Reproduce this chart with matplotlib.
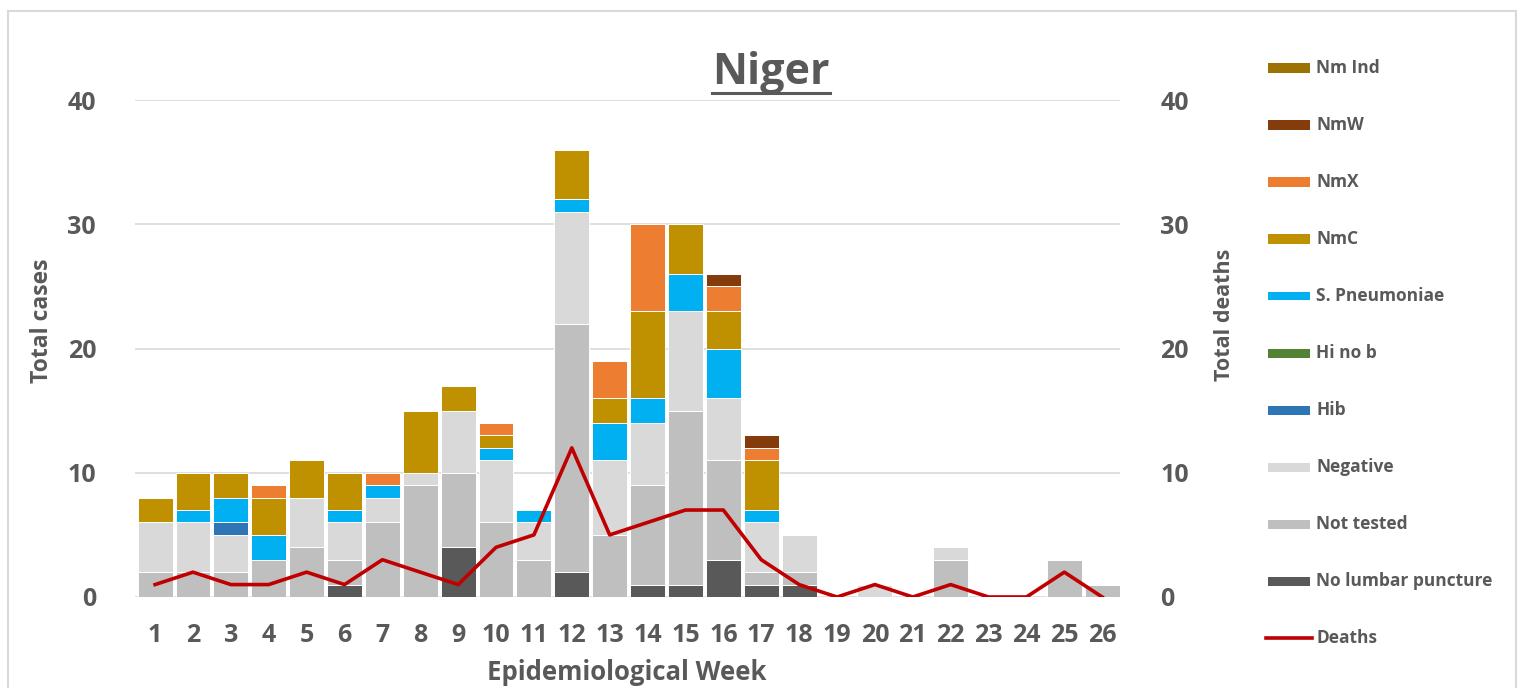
import matplotlib
matplotlib.use("Agg")
import matplotlib.pyplot as plt
from matplotlib.patches import Rectangle
from matplotlib.lines import Line2D
import numpy as np

plt.rcParams['font.family'] = ['Open Sans', 'DejaVu Sans']

weeks = list(range(1, 27))
no_lumbar = [0,0,0,0,0,1,0,0,4,0,0,2,0,1,1,3,1,1,0,0,0,0,0,0,0,0]
not_tested = [2,2,2,3,4,2,6,9,6,6,3,20,5,8,14,8,1,1,0,0,0,3,0,0,3,1]
negative = [4,4,3,0,4,3,2,1,5,5,3,9,6,5,8,5,4,3,0,1,0,1,0,0,0,0]
hib = [0,0,1,0,0,0,0,0,0,0,0,0,0,0,0,0,0,0,0,0,0,0,0,0,0,0]
hi_no_b = [0]*26
s_pneumo = [0,1,2,2,0,1,1,0,0,1,1,1,3,2,3,4,1,0,0,0,0,0,0,0,0,0]
nmc = [2,3,2,3,3,3,0,5,2,1,0,4,2,7,4,3,4,0,0,0,0,0,0,0,0,0]
nmx = [0,0,0,1,0,0,1,0,0,1,0,0,3,7,0,2,1,0,0,0,0,0,0,0,0,0]
nmw = [0,0,0,0,0,0,0,0,0,0,0,0,0,0,0,1,1,0,0,0,0,0,0,0,0,0]
nm_ind = [0]*26
deaths = [1,2,1,1,2,1,3,2,1,4,5,12,5,6,7,7,3,1,0,1,0,1,0,0,2,0]

series = [
    ("No lumbar puncture", no_lumbar, "#595959"),
    ("Not tested", not_tested, "#BFBFBF"),
    ("Negative", negative, "#D9D9D9"),
    ("Hib", hib, "#2E75B6"),
    ("Hi no b", hi_no_b, "#548235"),
    ("S. Pneumoniae", s_pneumo, "#00B0F0"),
    ("NmC", nmc, "#BF9000"),
    ("NmX", nmx, "#ED7D31"),
    ("NmW", nmw, "#843C0C"),
    ("Nm Ind", nm_ind, "#9C7300"),
]

TXT = "#595959"
W, H = 1520, 688
fig = plt.figure(figsize=(W/100, H/100), dpi=100)

def fx(px):
    return px / W

def fy(py):
    return 1 - py / H

ax = fig.add_axes([fx(135), fy(597), fx(1120) - fx(135), fy(100) - fy(597)])
ax2 = ax.twinx()

bottom = np.zeros(len(weeks))
for name, vals, col in series:
    v = np.array(vals, dtype=float)
    ax.bar(weeks, v, bottom=bottom, width=0.92, color=col, edgecolor="white",
           linewidth=0.7, zorder=3)
    bottom += v

ax2.plot(weeks, deaths, color="#C00000", linewidth=2.6, zorder=5)

for a in (ax, ax2):
    a.set_ylim(0, 40)
    a.set_xlim(0.47, 26.47)
    a.set_yticks([0, 10, 20, 30, 40])
    for s in a.spines.values():
        s.set_visible(False)
    a.tick_params(length=0, labelsize=18, labelcolor=TXT)
    for lab in a.get_yticklabels():
        lab.set_fontweight("bold")

ax.tick_params(axis='y', pad=28)
ax2.tick_params(axis='y', pad=29)
ax.set_xticks(weeks)
ax.set_xticklabels([str(w) for w in weeks], fontweight="bold")
ax.tick_params(axis='x', pad=19)
ax.yaxis.grid(True, color="#D9D9D9", linewidth=1.2, zorder=0)
ax.set_axisbelow(True)
ax2.set_zorder(ax.get_zorder() + 1)
ax2.patch.set_visible(False)

fig.text(fx(42), fy(321), "Total cases", rotation=90, ha="center", va="center",
         fontsize=16.5, fontweight="bold", color=TXT)
fig.text(fx(1225), fy(315), "Total deaths", rotation=90, ha="center", va="center",
         fontsize=15.5, fontweight="bold", color=TXT)
fig.text(fx(627), fy(673), "Epidemiological Week", ha="center", va="center",
         fontsize=18.5, fontweight="bold", color=TXT)

title = fig.text(fx(771), fy(72), "Niger", ha="center", va="center",
                 fontsize=31, fontweight="bold", color=TXT)
fig.canvas.draw()
bb = title.get_window_extent(renderer=fig.canvas.get_renderer())
fig.add_artist(Line2D([bb.x0 / W, bb.x1 / W], [fy(93), fy(93)],
                      transform=fig.transFigure, color=TXT, linewidth=2.2))

# legend (manual)
entries = [(n, c) for n, v, c in series[::-1]]
y0, dy = 68, 57
for i, (name, col) in enumerate(entries):
    yc = y0 + i * dy
    fig.add_artist(Rectangle((fx(1268), fy(yc + 4.5)), fx(1310) - fx(1268),
                             fy(yc - 4.5) - fy(yc + 4.5), transform=fig.transFigure,
                             facecolor=col, edgecolor="none"))
    fig.text(fx(1316), fy(yc), name, ha="left", va="center", fontsize=12.5,
             fontweight="bold", color=TXT)
yc = y0 + len(entries) * dy
fig.add_artist(Line2D([fx(1266), fx(1312)], [fy(yc), fy(yc)], transform=fig.transFigure,
                      color="#C00000", linewidth=2.6))
fig.text(fx(1316), fy(yc), "Deaths", ha="left", va="center", fontsize=12.5,
         fontweight="bold", color=TXT)

# outer frame
fig.add_artist(Rectangle((fx(7.5), fy(700)), fx(1516) - fx(7.5), fy(10.5) - fy(700),
                         transform=fig.transFigure, facecolor="none",
                         edgecolor="#D9D9D9", linewidth=1.5))

fig.savefig("out.png", dpi=100)
